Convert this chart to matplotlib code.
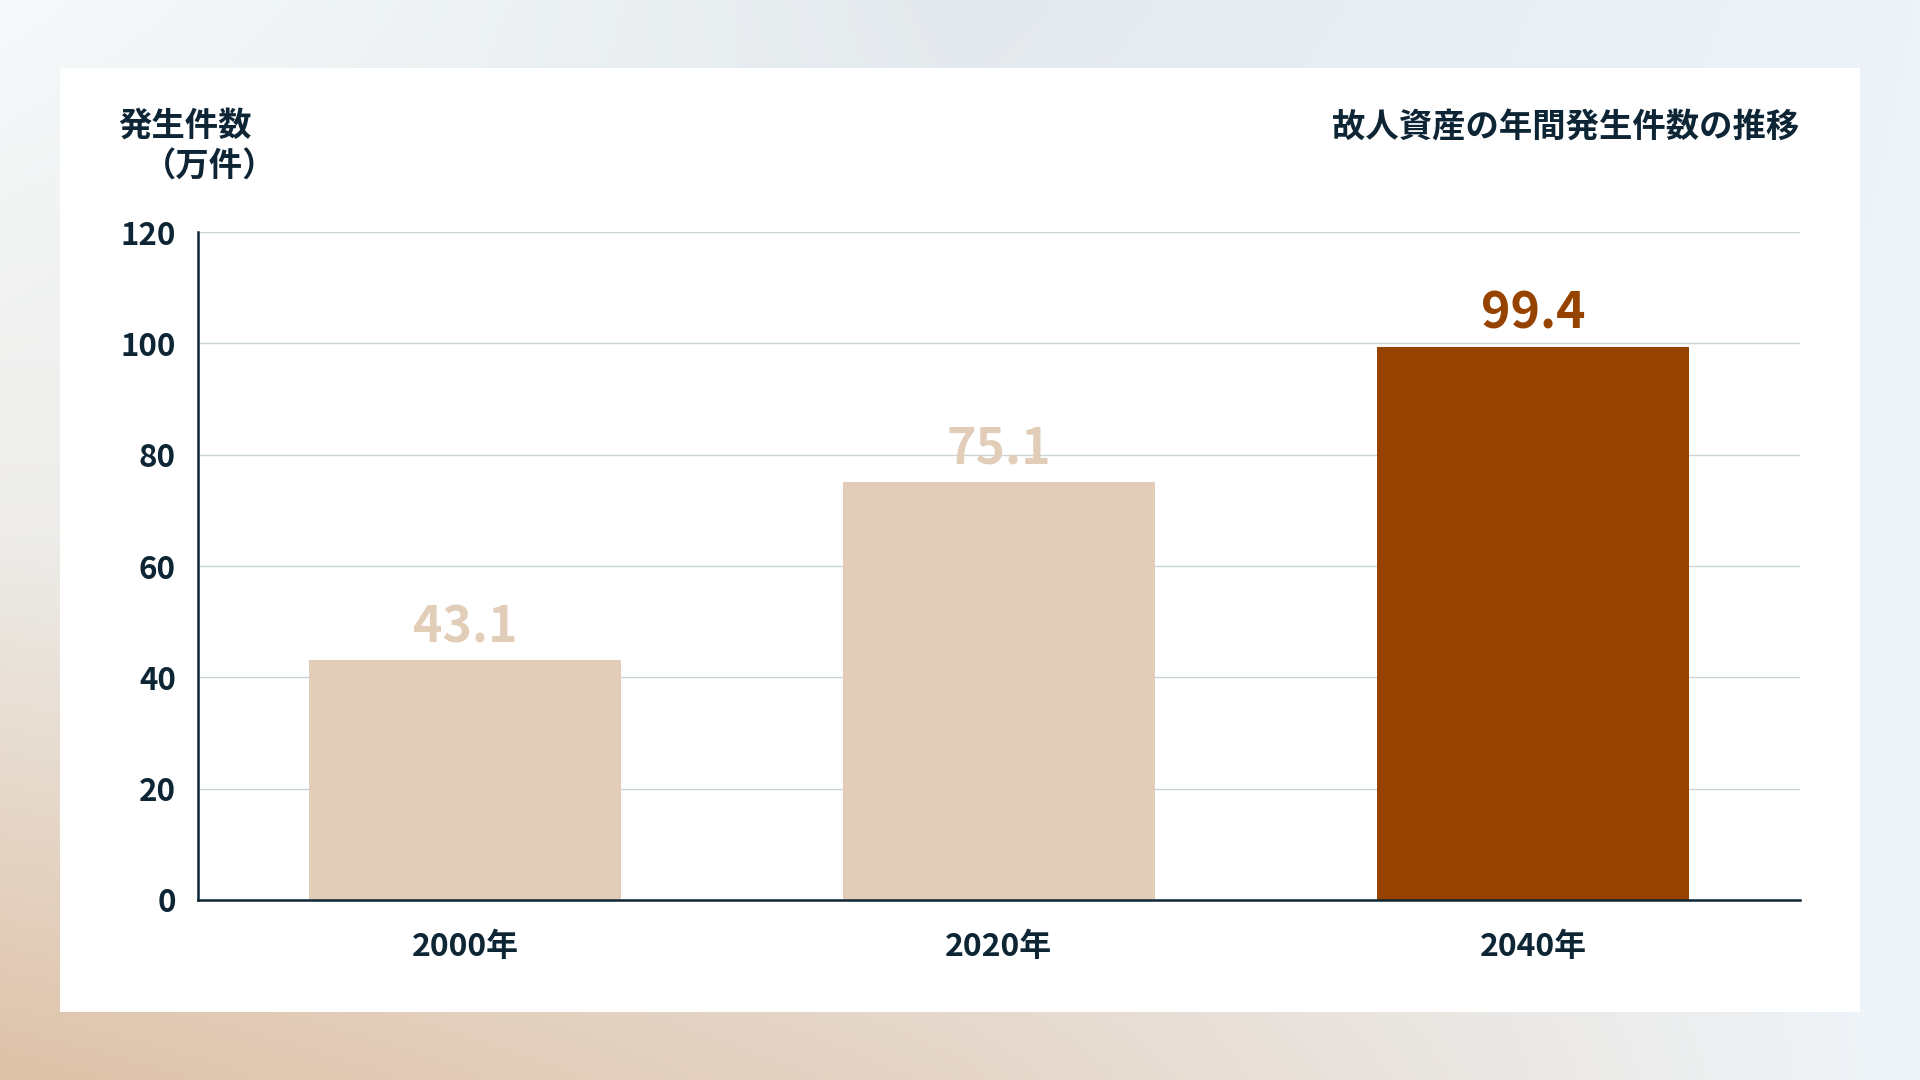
import numpy as np
import matplotlib
matplotlib.use("Agg")
import matplotlib.pyplot as plt
from matplotlib.patches import Rectangle
from matplotlib.colors import to_rgb

plt.rcParams['font.family'] = ['Noto Sans CJK JP', 'DejaVu Sans']

categories = ["2000年", "2020年", "2040年"]
values = [43.1, 75.1, 99.4]
value_labels = ["43.1", "75.1", "99.4"]
yticks = [0, 20, 40, 60, 80, 100, 120]
title = "故人資産の年間発生件数の推移"
ylabel_lines = ["発生件数", "（万件）"]

bar_colors = ["#E2CDB9", "#E2CDB9", "#974300"]
label_colors = ["#E2CDB9", "#E2CDB9", "#974300"]
navy = "#0E2535"

fig = plt.figure(figsize=(19.2, 10.8), dpi=100)

# background gradient
H, W = 108, 192
ctrl = np.array([
    [to_rgb("#F6FAFB"), to_rgb("#E4E9ED"), to_rgb("#EDF3F8")],
    [to_rgb("#EDECE9"), to_rgb("#EBEEF1"), to_rgb("#EEF4F9")],
    [to_rgb("#DEC2A8"), to_rgb("#E5D6C8"), to_rgb("#EFF5FA")],
])
yy = np.linspace(0, 2, H)[:, None]
xx = np.linspace(0, 2, W)[None, :]
img = np.zeros((H, W, 3))
for c in range(3):
    g = ctrl[:, :, c]
    yi = np.clip(np.floor(yy).astype(int), 0, 1)
    xi = np.clip(np.floor(xx).astype(int), 0, 1)
    fy = yy - yi
    fx = xx - xi
    v00 = g[yi, xi]; v01 = g[yi, xi + 1]; v10 = g[yi + 1, xi]; v11 = g[yi + 1, xi + 1]
    img[:, :, c] = (v00 * (1 - fx) * (1 - fy) + v01 * fx * (1 - fy)
                    + v10 * (1 - fx) * fy + v11 * fx * fy)
bg = fig.add_axes([0, 0, 1, 1], zorder=-10)
bg.imshow(img, aspect='auto', extent=[0, 1, 0, 1], interpolation='bilinear')
bg.axis('off')

# white card
fig.patches.append(Rectangle((60 / 1920, 1 - 1012 / 1080), 1800 / 1920, 944 / 1080,
                             transform=fig.transFigure, facecolor='white',
                             edgecolor='none', zorder=-5))

ax = fig.add_axes([198 / 1920, 1 - 900 / 1080, 1602 / 1920, 668 / 1080])
ax.set_facecolor('none')
x = np.arange(len(categories))
bars = ax.bar(x, values, width=0.585, color=bar_colors, zorder=2)
ax.set_xlim(-0.5, len(categories) - 0.5)
ax.set_ylim(0, 120)
ax.set_yticks(yticks)
ax.set_yticklabels([str(t) for t in yticks])
ax.set_xticks(x)
ax.set_xticklabels(categories)
ax.grid(axis='y', color='#C9D4DA', linewidth=1.0, zorder=0)
ax.set_axisbelow(True)
for s in ['top', 'right']:
    ax.spines[s].set_visible(False)
for s in ['left', 'bottom']:
    ax.spines[s].set_color(navy)
    ax.spines[s].set_linewidth(1.8)
    ax.spines[s].set_zorder(3)
ax.tick_params(axis='both', length=0, colors=navy)
ax.tick_params(axis='y', pad=16, labelsize=22.5)
ax.tick_params(axis='x', pad=22.5, labelsize=23)
for lab in ax.get_xticklabels() + ax.get_yticklabels():
    lab.set_fontweight('bold')

for xi_, v, lbl, col in zip(x, values, value_labels, label_colors):
    ax.annotate(lbl, (xi_, v), xytext=(0, 13), textcoords='offset points',
                ha='center', va='baseline', fontsize=36, fontweight='semibold',
                color=col, zorder=4)

fig.text(1799 / 1920, 1 - 128 / 1080, title, ha='right', va='center',
         fontsize=24, fontweight='bold', color=navy)
fig.text(252 / 1920, 1 - 126 / 1080, ylabel_lines[0], ha='right', va='center',
         fontsize=24, fontweight='bold', color=navy)
fig.text(276 / 1920, 1 - 166 / 1080, ylabel_lines[1], ha='right', va='center',
         fontsize=24, fontweight='bold', color=navy)

fig.savefig("out.png", dpi=100)
